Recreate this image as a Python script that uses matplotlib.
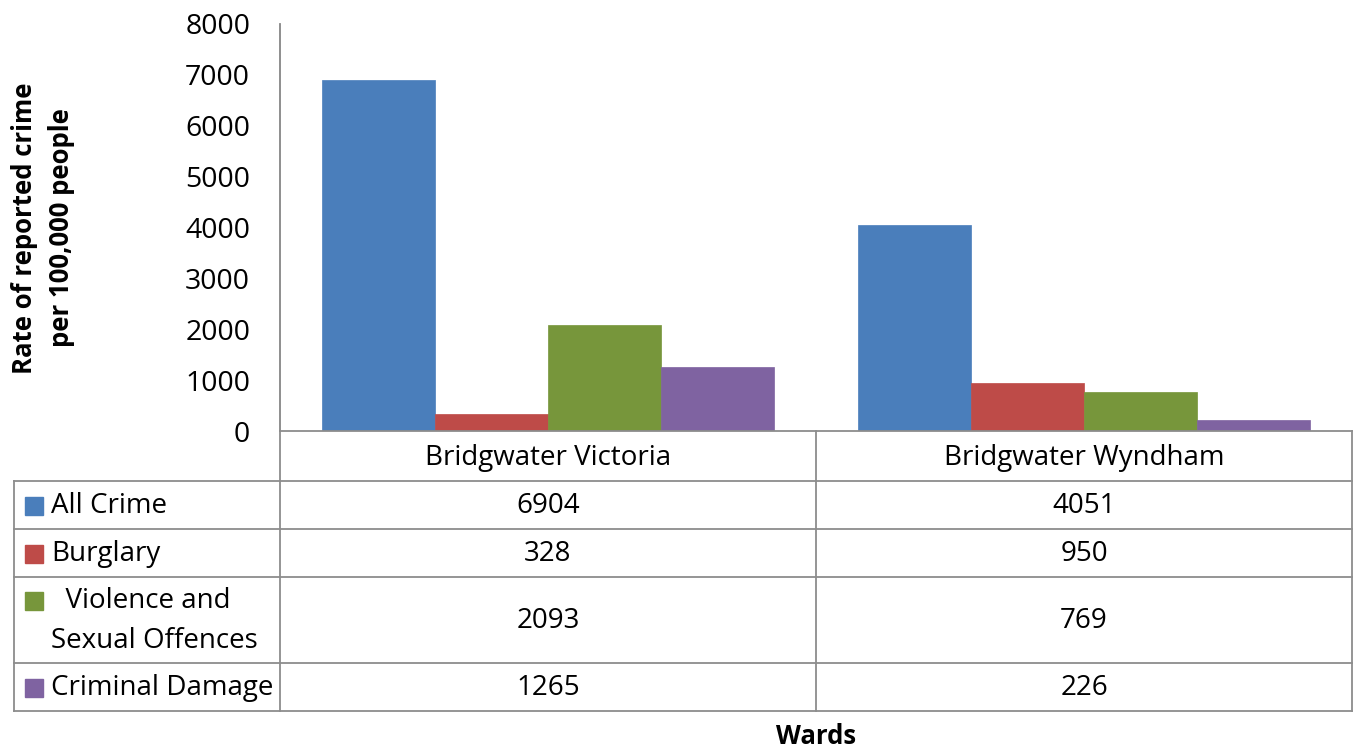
import numpy as np
import matplotlib.pyplot as plt
from matplotlib.patches import Rectangle

wards = ["Bridgwater Victoria", "Bridgwater Wyndham"]
series = ["All Crime", "Burglary", "  Violence and\nSexual Offences", "Criminal Damage"]
all_crime = [6904, 4051]
burglary = [328, 950]
violence = [2093, 769]
damage = [1265, 226]
values = [all_crime, burglary, violence, damage]
colors = ["#4A7EBB", "#BE4B48", "#77963B", "#7F63A1"]

plt.rcParams['font.family'] = ['Open Sans', 'DejaVu Sans']
W, H = 1356, 749
fig = plt.figure(figsize=(W / 100, H / 100), dpi=100)

# plot area in pixel coords
x0, x1, y0, y1 = 280, 1352, 431, 24
ax = fig.add_axes([x0 / W, 1 - y0 / H, (x1 - x0) / W, (y0 - y1) / H])
n = len(series)
bw = 0.843 / n
x = np.arange(len(wards))
for i, (vals, c) in enumerate(zip(values, colors)):
    ax.bar(x - 0.4215 + bw * (i + 0.5), vals, bw, color=c, edgecolor=c, linewidth=0.5)
ax.set_xlim(-0.5, len(wards) - 0.5)
ax.set_ylim(0, 8000)
ax.set_yticks(range(0, 8001, 1000))
ax.tick_params(axis='y', length=0, pad=21.5, labelsize=20.5)
ax.set_xticks([])
for s in ['top', 'right', 'bottom']:
    ax.spines[s].set_visible(False)
ax.spines['left'].set_color('#868686')
ax.spines['left'].set_linewidth(1.3)
ax.patch.set_alpha(0)

fig.text(43 / W, 1 - 228 / H, "Rate of reported crime\nper 100,000 people", rotation=90,
         ha='center', va='center', fontsize=18.5, fontweight='bold', linespacing=1.45)

# data table drawn on a figure-level overlay
ov = fig.add_axes([0, 0, 1, 1])
ov.set_xlim(0, W)
ov.set_ylim(H, 0)
ov.axis('off')
lc = '#8C8C8C'
rows = [431, 481, 529, 577, 663, 711]
ov.plot([x0, x1], [rows[0], rows[0]], color=lc, lw=1.3)
for r in rows[1:]:
    ov.plot([14, x1], [r, r], color=lc, lw=1.3)
ov.plot([14, 14], [rows[1], rows[-1]], color=lc, lw=1.3)
col_x = [x0, (x0 + x1) / 2, x1]
for cx in col_x:
    ov.plot([cx, cx], [rows[0], rows[-1]], color=lc, lw=1.3)

fs = 20
for j, w in enumerate(wards):
    ov.text((col_x[j] + col_x[j + 1]) / 2, (rows[0] + rows[1]) / 2 + 2, w,
            ha='center', va='center', fontsize=fs)
for i, (name, vals, c) in enumerate(zip(series, values, colors)):
    ym = (rows[i + 1] + rows[i + 2]) / 2
    ov.add_patch(Rectangle((25, ym - 8 if i != 2 else rows[i + 1] + 15), 18, 18, color=c))
    ov.text(51, ym + 1, name, ha='left', va='center', fontsize=fs, linespacing=1.55)
    for j, v in enumerate(vals):
        ov.text((col_x[j] + col_x[j + 1]) / 2, ym + 1, str(v),
                ha='center', va='center', fontsize=fs)

fig.text(816 / W, 1 - 737 / H, "Wards", ha='center', va='center',
         fontsize=18.5, fontweight='bold')

fig.savefig("out.png", dpi=100)
